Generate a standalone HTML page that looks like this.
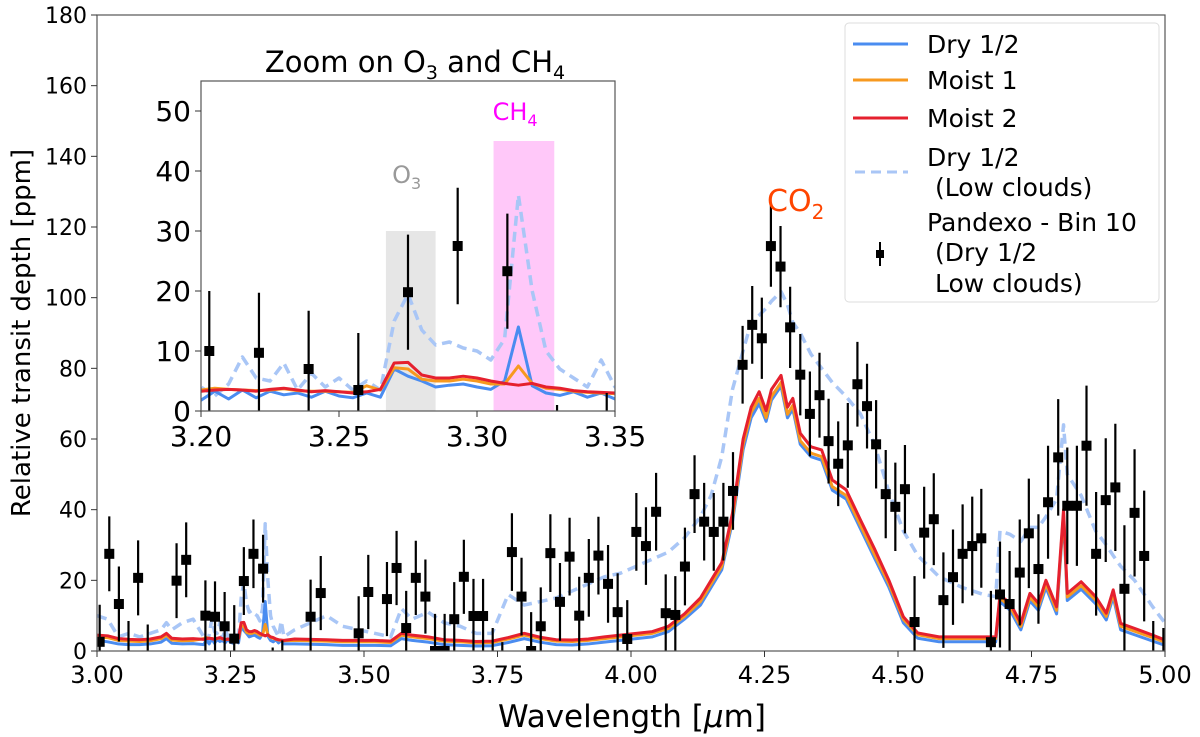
<!DOCTYPE html>
<html><head><meta charset="utf-8"><style>
html,body{margin:0;padding:0;background:#fff;}
svg{display:block;font-family:"DejaVu Sans","Liberation Sans",sans-serif;}
</style></head><body>
<svg id="chart" width="1200" height="737" viewBox="0 0 1200 737" xmlns="http://www.w3.org/2000/svg">
<defs>
<clipPath id="mainClip"><rect x="97" y="15" width="1068" height="636"/></clipPath>
<clipPath id="insetClip"><rect x="201" y="81" width="414" height="330"/></clipPath>
</defs>
<rect width="1200" height="737" fill="#fff"/>
<g id="mainMarks" clip-path="url(#mainClip)"></g>
<rect x="97" y="15" width="1068" height="636" fill="none" stroke="#555" stroke-width="1.2"/>
<g id="mainAxes"></g>
<text transform="translate(30,333) rotate(-90)" text-anchor="middle" font-size="26">Relative transit depth [ppm]</text>
<text x="632" y="727" text-anchor="middle" font-size="31">Wavelength [<tspan font-style="italic">μ</tspan>m]</text>
<text x="767" y="211" font-size="30" fill="#ff4500">CO<tspan font-size="20" dy="8">2</tspan></text>

<g>
<rect x="845" y="23" width="314" height="279" rx="4" fill="#fff" fill-opacity="0.85" stroke="#ddd" stroke-width="1"/>
<line x1="853" y1="44" x2="908" y2="44" stroke="#4a8cf0" stroke-width="3"/>
<text x="927" y="53" font-size="25">Dry 1/2</text>
<line x1="853" y1="80" x2="908" y2="80" stroke="#f7991f" stroke-width="3"/>
<text x="927" y="89" font-size="25">Moist 1</text>
<line x1="853" y1="118" x2="908" y2="118" stroke="#e5202e" stroke-width="3"/>
<text x="927" y="127" font-size="25">Moist 2</text>
<line x1="855" y1="172" x2="908" y2="172" stroke="#a9c6f6" stroke-width="3" stroke-dasharray="10,6"/>
<text x="927" y="166" font-size="25">Dry 1/2</text>
<text x="927" y="196" font-size="25">&#160;(Low clouds)</text>
<line x1="880" y1="242" x2="880" y2="266" stroke="#000" stroke-width="2"/>
<rect x="876" y="250" width="8" height="8" fill="#000"/>
<text x="927" y="231" font-size="25">Pandexo - Bin 10</text>
<text x="927" y="261" font-size="25">&#160;(Dry 1/2</text>
<text x="935" y="292" font-size="25">Low clouds)</text>
</g>

<g>
<rect x="201" y="81" width="414" height="330" fill="#fff"/>
<text x="415" y="72" text-anchor="middle" font-size="29">Zoom on O<tspan font-size="19" dy="7">3</tspan><tspan dy="-7"> and CH</tspan><tspan font-size="19" dy="7">4</tspan></text>
<g id="insetMarks" clip-path="url(#insetClip)"></g>
<rect x="201" y="81" width="414" height="330" fill="none" stroke="#555" stroke-width="1.2"/>
<g id="insetAxes"></g>
</g>
</svg>
<script>
// ---- data ----
const modelWl = [3.00,3.02,3.04,3.06,3.08,3.10,3.12,3.13,3.14,3.16,3.18,
3.200,3.205,3.210,3.215,3.220,3.225,3.230,3.235,3.240,3.245,3.250,3.255,3.260,3.265,3.270,3.275,3.280,3.285,3.290,3.295,3.300,3.305,3.310,3.315,3.320,3.325,3.330,3.335,3.340,3.345,3.350,
3.37,3.40,3.43,3.46,3.49,3.52,3.55,3.57,3.59,3.62,3.65,3.68,3.71,3.74,3.77,3.80,3.83,3.86,3.89,3.92,3.95,3.98,4.01,4.04,4.07,4.10,4.13,4.15,4.17,4.19,4.21,4.225,4.24,4.253,4.263,4.281,4.293,4.303,4.317,4.337,4.357,4.377,4.403,4.43,4.457,4.483,4.51,4.537,4.577,4.62,4.66,4.683,4.691,4.71,4.73,4.747,4.763,4.777,4.797,4.81,4.817,4.843,4.87,4.89,4.903,4.917,4.943,4.977,5.00];
const moist2 = [4.5,4.3,3.5,3.3,3.2,3.4,4.0,5.0,3.6,3.4,3.5,
3.3,3.5,3.6,3.5,3.3,3.6,3.8,3.5,3.2,3.4,3.2,3.0,3.2,3.6,8.0,8.1,6.0,5.5,5.5,5.8,5.5,5.0,4.6,4.3,4.6,4.0,3.8,3.4,3.2,3.1,3.0,
3.4,3.3,3.2,3.0,3.0,3.0,2.8,5.0,4.5,4.0,3.2,3.0,2.7,2.8,3.8,5.0,3.9,3.2,3.1,3.4,4.0,4.5,5.0,5.5,7.0,10.5,15,20,25,39,60,69,73.4,68,74,78,69,71.5,61.6,57.8,56.9,48.4,45.6,37,28.6,20,9.7,5.1,4.0,4.0,4.0,4.0,15.8,13.5,7.9,16.3,13.5,20,12.5,40,16.3,19.6,15.4,10.7,17.3,7.8,6.4,4.5,3.1];
const moist1 = [4.0,3.8,3.0,2.8,2.7,2.9,3.5,4.5,3.1,2.9,3.0,
3.5,3.8,3.6,3.5,3.4,3.5,3.7,3.4,3.3,3.3,3.2,3.1,4.2,3.5,7.2,7.0,5.3,5.0,5.0,5.3,5.0,4.5,4.5,7.5,4.6,3.8,3.6,3.3,3.1,3.0,2.9,
3.0,2.9,2.8,2.6,2.6,2.6,2.4,4.5,4.0,3.5,2.8,2.6,2.3,2.4,3.4,4.5,3.5,2.8,2.7,3.0,3.5,4.0,4.5,5.0,6.4,9.8,14,19,24,37.5,58.5,67.5,71.5,66,72,76,67,69.5,59.5,56,55,46.5,44,35.5,27,19,9,4.6,3.5,3.5,3.5,3.5,15,12.5,7,15.2,12.5,19,11.5,39,15.3,18.5,14.4,9.8,16.3,7,5.6,3.8,2.5];
const dry12 = [3.0,2.6,2.0,1.8,1.8,2.0,2.5,3.5,2.2,2.0,2.1,
1.8,3.3,2.0,3.5,2.2,3.3,2.7,3.0,2.3,3.3,2.5,2.2,3.0,2.3,7.0,5.8,5.0,4.0,4.3,4.5,4.0,3.6,5.0,14.0,4.2,3.0,2.6,3.2,2.3,3.0,2.0,
2.0,1.9,1.8,1.6,1.6,1.6,1.5,3.5,3.0,2.5,1.8,1.6,1.4,1.5,2.4,3.5,2.5,1.8,1.7,2.0,2.5,3.0,3.5,4.0,5.5,9.0,13,18,23,36.5,57,66,70,65,71,75,66,68.5,58.5,55,54,45.5,43,34.5,26,18,8,3.6,2.6,2.6,2.6,2.6,14,11.5,6,14.2,11.5,18,10.5,38,14.3,17.5,13.4,8.8,15.3,6,4.6,2.8,1.6];
const dryLowClouds = [10,9,4,5,4,5,6,8,6,8,9,
4,2.5,4.5,9,5.5,5,8,3.5,6.3,4,5.5,3.5,5,3.5,15,19.5,13.5,11,11.5,10.5,10,8.5,12,36,20,10,7,5.5,4,8.5,4,
6,8,10,7,6,5,4,12,9,11,8,7,5,5,16,13,14,15,17,19,21,22,24,26,28,32,38,44,55,74,85,93,95,97,99,101.7,98,93,90,84,80,76,72,67,58,45,34,27,21,18,16,15.4,34,33,31,35,35,38,43,64,50,44,34,30,27,24,20,12.5,7.9];

const dataWl = [3.005,3.023,3.041,3.059,3.077,3.095,3.149,3.167,3.203,3.221,3.239,3.257,3.275,3.293,3.311,3.329,3.347,3.400,3.419,3.490,3.508,3.543,3.561,3.579,3.597,3.615,3.633,3.651,3.669,3.687,3.705,3.723,3.741,3.759,3.777,3.795,3.813,3.831,3.849,3.867,3.885,3.903,3.921,3.939,3.957,3.975,3.993,4.010,4.028,4.047,4.065,4.083,4.101,4.119,4.137,4.155,4.173,4.191,4.209,4.227,4.245,4.262,4.280,4.298,4.317,4.335,4.353,4.370,4.388,4.406,4.424,4.442,4.459,4.477,4.495,4.513,4.531,4.549,4.567,4.585,4.603,4.621,4.639,4.656,4.674,4.691,4.709,4.728,4.745,4.763,4.781,4.800,4.817,4.835,4.853,4.871,4.889,4.907,4.924,4.943,4.961,4.978,4.997];
const dataVal = [2.6,27.5,13.3,-2,20.7,-3,19.9,25.8,10,9.7,7,3.5,19.8,27.5,23.3,-9,-7,9.7,16.4,5,16.7,14.7,23.5,6.5,20.7,15.4,0,0,9,21,9.9,9.9,-4,-8,28,15.4,0,7,27.7,13.9,26.7,10,20.7,27,19,11,3.4,33.7,29.7,39.4,10.7,10.2,23.9,44.4,36.6,33.7,36.6,45.3,81,92.3,88.5,114.6,108.8,91.6,78.2,67.1,72.4,59.4,53,58.2,75.5,69.3,58.5,44.4,40.8,45.8,8.2,33.5,37.3,14.4,20.9,27.5,29.7,31.9,2.5,16,13.3,22.2,33.3,23.2,42.1,54.8,41.1,41.1,58.1,27.5,42.7,46.3,17.6,39.1,26.9,-10,-12];
const dataErr = [10.5,10.6,10.6,10.5,10.6,10.5,10.6,10.6,10,10,9.7,9.5,9.6,9.7,9.6,10,10,10.5,10.5,10.5,10.5,10.5,10.5,10.5,10.5,10.5,10.5,10.5,10.5,10.5,10.5,10.5,10.5,10.5,11,11,11,11,11,11,11,11,11,11,11,11,11,11,11,11,11,11,11,11,11,11,11,11,11,11,11.5,11.5,11.5,11.5,11.5,12,12,12,12,12,12,12,12.5,12.5,12.5,12.5,13,13,13,13.5,13.5,14,14,14,14.5,15,15,15,15.5,15.5,16,16.5,16.5,17,17,17.5,17.5,18,18,18,18.5,18.5,18.5];

const mainXTicks = [3.00,3.25,3.50,3.75,4.00,4.25,4.50,4.75,5.00];
const mainYTicks = [0,20,40,60,80,100,120,140,160,180];
const insetXTicks = [3.20,3.25,3.30,3.35];
const insetYTicks = [0,10,20,30,40,50];

// ---- axes ----
const mx = v => 97 + (v - 3.0) / 2.0 * 1068;
const my = v => 651 - v / 180 * 636;
const ix = v => 201 + (v - 3.20) / 0.15 * 414;
const iy = v => 411 - v / 55 * 330;

const NS = 'http://www.w3.org/2000/svg';
function mk(tag, attrs, parent) {
  const el = document.createElementNS(NS, tag);
  for (const k in attrs) el.setAttribute(k, attrs[k]);
  parent.appendChild(el);
  return el;
}
function seriesPath(xf, yf, ys) {
  return modelWl.map((w, i) => (i ? 'L' : 'M') + xf(w).toFixed(2) + ',' + yf(ys[i]).toFixed(2)).join('');
}

function drawPanel(g, xf, yf, lw, xmin, xmax) {
  const dsh = mk('path', {d: seriesPath(xf, yf, dryLowClouds), fill: 'none', stroke: '#a9c6f6', 'stroke-width': lw + 0.5, 'stroke-dasharray': '10,6', 'stroke-linejoin': 'round'}, g);
  
  
  const b = mk('path', {d: seriesPath(xf, yf, dry12), fill: 'none', stroke: '#4a8cf0', 'stroke-width': lw, 'stroke-linejoin': 'round'}, g);
  
  
  const o = mk('path', {d: seriesPath(xf, yf, moist1), fill: 'none', stroke: '#f7991f', 'stroke-width': lw, 'stroke-linejoin': 'round'}, g);
  
  
  const r = mk('path', {d: seriesPath(xf, yf, moist2), fill: 'none', stroke: '#e5202e', 'stroke-width': lw, 'stroke-linejoin': 'round'}, g);
  
  
  dataWl.forEach((w, i) => {
    if (w < xmin || w > xmax) return;
    const x = xf(w);
    const eb = mk('line', {x1: x, x2: x, y1: yf(dataVal[i] - dataErr[i]), y2: yf(dataVal[i] + dataErr[i]), stroke: '#000', 'stroke-width': 2.2}, g);
    
    
    const m = mk('rect', {x: x - 5, y: yf(dataVal[i]) - 5, width: 10, height: 10, fill: '#000'}, g);
    
    
  });
}

const mainMarks = document.getElementById('mainMarks');
drawPanel(mainMarks, mx, my, 3, 2.9, 5.1);

const insetMarks = document.getElementById('insetMarks');
const o3 = mk('rect', {x: ix(3.267), y: iy(30), width: ix(3.285) - ix(3.267), height: iy(0) - iy(30), fill: '#e6e6e6'}, insetMarks);


const ch4 = mk('rect', {x: ix(3.306), y: iy(45), width: ix(3.328) - ix(3.306), height: iy(0) - iy(45), fill: '#ffc8f9'}, insetMarks);


const o3t = mk('text', {x: ix(3.2745), y: iy(38), 'text-anchor': 'middle', 'font-size': 24, fill: '#999'}, insetMarks);


o3t.innerHTML = 'O<tspan font-size="16" dy="6">3</tspan>';
const ch4t = mk('text', {x: ix(3.3138), y: iy(48.5), 'text-anchor': 'middle', 'font-size': 24, fill: '#ff00ff'}, insetMarks);


ch4t.innerHTML = 'CH<tspan font-size="16" dy="6">4</tspan>';
drawPanel(insetMarks, ix, iy, 3, 3.19, 3.36);

// ---- ticks ----
const mainAxes = document.getElementById('mainAxes');
mainXTicks.forEach(t => {
  const x = mx(t);
  const tk = mk('line', {x1: x, x2: x, y1: 651, y2: 657, stroke: '#333', 'stroke-width': 1}, mainAxes);
  
  
  const lb = mk('text', {x: x, y: 683, 'text-anchor': 'middle', 'font-size': 24}, mainAxes);
  
  
  lb.textContent = t.toFixed(2);
});
mainYTicks.forEach(t => {
  const y = my(t);
  const tk = mk('line', {x1: 91, x2: 97, y1: y, y2: y, stroke: '#333', 'stroke-width': 1}, mainAxes);
  
  
  const lb = mk('text', {x: 87, y: y + 8, 'text-anchor': 'end', 'font-size': 22}, mainAxes);
  
  
  lb.textContent = t;
});
const insetAxes = document.getElementById('insetAxes');
insetXTicks.forEach(t => {
  const x = ix(t);
  const tk = mk('line', {x1: x, x2: x, y1: 411, y2: 417, stroke: '#333', 'stroke-width': 1}, insetAxes);
  
  
  const lb = mk('text', {x: x, y: 446, 'text-anchor': 'middle', 'font-size': 28}, insetAxes);
  
  
  lb.textContent = t.toFixed(2);
});
insetYTicks.forEach(t => {
  const y = iy(t);
  const tk = mk('line', {x1: 195, x2: 201, y1: y, y2: y, stroke: '#333', 'stroke-width': 1}, insetAxes);
  
  
  const lb = mk('text', {x: 191, y: y + 10, 'text-anchor': 'end', 'font-size': 28}, insetAxes);
  
  
  lb.textContent = t;
});
</script>
</body></html>
